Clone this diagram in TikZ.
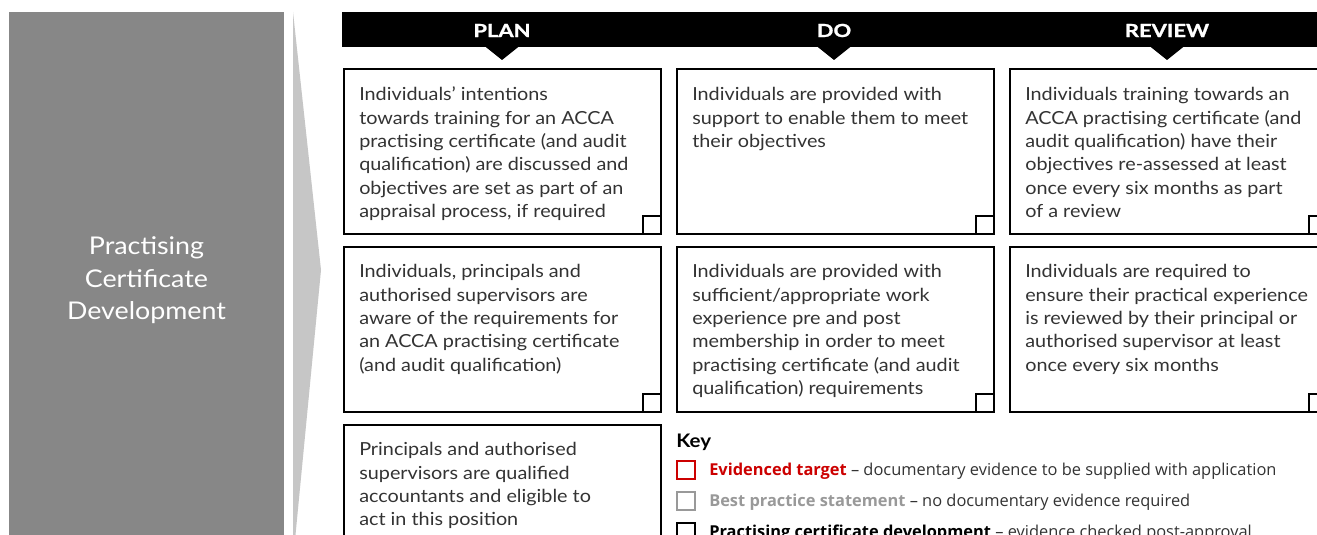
\documentclass[tikz,border=0pt]{standalone}
\usepackage{fontspec}
\setmainfont{Lato}[FakeStretch=1.1]
\newfontfamily\headfont{Lato}[FakeStretch=1.22, BoldFont=*-Bold, BoldFeatures={FakeBold=1.2}]
\newfontfamily\keyfont{Open Sans}
\definecolor{txtgray}{HTML}{333333}
\definecolor{leftgray}{HTML}{878787}
\definecolor{chevgray}{HTML}{C6C6C6}
\definecolor{keyred}{HTML}{CC0000}
\definecolor{keygray}{HTML}{999999}
\begin{document}
\begin{tikzpicture}[x=0.75pt,y=-0.75pt,
  cardbox/.style={draw=black, line width=1.5pt, anchor=north west, inner sep=0,
    minimum width=237.75pt, minimum height=123.75pt},
  tickbox/.style={draw=black, line width=1.5pt, anchor=south east, inner sep=0,
    minimum size=13.5pt},
  cardtext/.style={anchor=north west, align=left, inner sep=0, text=txtgray,
    font=\fontsize{13.5}{17.55}\selectfont},
  headtext/.style={text=white, inner sep=0, font=\headfont\bfseries\fontsize{13.5}{15}\selectfont},
  keysq/.style={draw, line width=1.3pt, inner sep=0, minimum size=13.5pt, anchor=north west},
  keytext/.style={anchor=west, inner sep=0, text=txtgray, font=\keyfont\fontsize{12.3}{14}\selectfont}
]
\clip (0,0) rectangle (1317,535);
\fill[white] (0,0) rectangle (1317,535);

% left panel
\fill[leftgray] (9,12) rectangle (284,540);
\node[text=white, align=center, inner sep=0, font=\fontsize{18.3}{24.4}\selectfont] (title) at (146.5,280.5)
  {Practising\\Certificate\\Development};
% chevron
\fill[chevgray] (293,12) -- (321,270) -- (295,540) -- (293,540) -- cycle;

% header bar
\fill[black] (342,12) rectangle (1320,47);
\foreach \cx in {502,834,1167}{
  \fill[black] (\cx-17.5,46) -- (\cx+17.5,46) -- (\cx,60) -- cycle;
}
\node[headtext] (hplan) at (502,30.5) {PLAN};
\node[headtext] (hdo) at (834,30.5) {DO};
\node[headtext] (hrev) at (1167,30.5) {REVIEW};

% row 1
\node[cardbox] (p1) at (343,68) {};
\node[cardbox] (d1) at (676,68) {};
\node[cardbox] (r1) at (1009,68) {};
% row 2
\node[cardbox] (p2) at (343,246) {};
\node[cardbox] (d2) at (676,246) {};
\node[cardbox] (r2) at (1009,246) {};
% row 3
\node[cardbox] (p3) at (343,424) {};

\foreach \b in {p1,d1,r1,p2,d2,r2,p3}{
  \node[tickbox] (\b t) at (\b.south east) {};
}

\node[cardtext] (p1x) at (359,84) {\strut Individuals’ intentions\\towards training for an ACCA\\practising certificate (and audit\\qualification) are discussed and\\objectives are set as part of an\\appraisal process, if required};
\node[cardtext] (d1x) at (692,84) {\strut Individuals are provided with\\support to enable them to meet\\their objectives};
\node[cardtext] (r1x) at (1025,84) {\strut Individuals training towards an\\ACCA practising certificate (and\\audit qualification) have their\\objectives re-assessed at least\\once every six months as part\\of a review};
\node[cardtext] (p2x) at (359,261) {\strut Individuals, principals and\\authorised supervisors are\\aware of the requirements for\\an ACCA practising certificate\\(and audit qualification)};
\node[cardtext] (d2x) at (692,261) {\strut Individuals are provided with\\sufficient/appropriate work\\experience pre and post\\membership in order to meet\\practising certificate (and audit\\qualification) requirements};
\node[cardtext] (r2x) at (1025,261) {\strut Individuals are required to\\ensure their practical experience\\is reviewed by their principal or\\authorised supervisor at least\\once every six months};
\node[cardtext] (p3x) at (359,439) {\strut Principals and authorised\\supervisors are qualified\\accountants and eligible to\\act in this position};

% key
\node[anchor=west, inner sep=0, font=\bfseries\fontsize{14}{16}\selectfont] (keyt) at (676,442) {Key};
\node[keysq, draw=keyred] (k1) at (676,460) {};
\node[keysq, draw=keygray] (k2) at (676,491) {};
\node[keysq, draw=black] (k3) at (676,522) {};
\node[keytext] (k1x) at (709,471.5) {\textcolor{keyred}{\bfseries Evidenced target} – documentary evidence to be supplied with application};
\node[keytext] (k2x) at (709,502.5) {\textcolor{keygray}{\bfseries Best practice statement} – no documentary evidence required};
\node[keytext] (k3x) at (709,533.5) {\textcolor{black}{\bfseries Practising certificate development} – evidence checked post-approval};
\end{tikzpicture}
\end{document}
